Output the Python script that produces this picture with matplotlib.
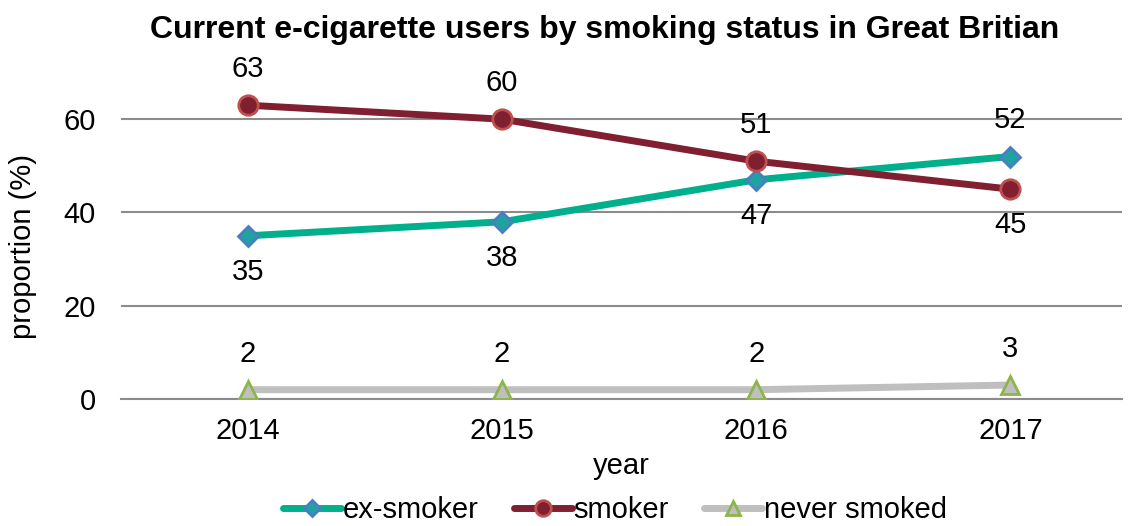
import numpy as np
import matplotlib
matplotlib.use('Agg')
import matplotlib.pyplot as plt

years = ['2014', '2015', '2016', '2017']
ex_smoker = [35, 38, 47, 52]
smoker = [63, 60, 51, 45]
never_smoked = [2, 2, 2, 3]

# label placement: +1 above, -1 below
ex_pos = [-1, -1, -1, 1]
sm_pos = [1, 1, 1, -1]
nv_pos = [1, 1, 1, 1]

plt.rcParams['font.family'] = ['Liberation Sans', 'DejaVu Sans']
fs = 21

fig = plt.figure(figsize=(11.28, 5.26), dpi=100)
ax = fig.add_axes([0.107, 0.2414, 0.888, 0.665])

x = np.arange(len(years))

l1, = ax.plot(x, ex_smoker, color='#00B08C', lw=5, marker='D', ms=10,
              mfc='#1FA3A0', mec='#4A7EC2', mew=2, zorder=3, solid_capstyle='round')
l2, = ax.plot(x, smoker, color='#7F1F2F', lw=5, marker='o', ms=14,
              mfc='#7F1F2F', mec='#C0504D', mew=2, zorder=3, solid_capstyle='round')
l3, = ax.plot(x, never_smoked, color='#BFBFBF', lw=5, marker='^', ms=13,
              mfc='#BFBFBF', mec='#8DB54A', mew=2, zorder=3, solid_capstyle='round')

for series, pos in [(ex_smoker, ex_pos), (smoker, sm_pos), (never_smoked, nv_pos)]:
    for xi, v, p in zip(x, series, pos):
        ax.annotate(str(v), (xi, v), xytext=(0, 26 * p), textcoords='offset points',
                    ha='center', va='center', fontsize=fs, clip_on=False)

ax.set_xlim(-0.5, 3.44)
ax.set_ylim(0, 75)
ax.set_yticks([0, 20, 40, 60])
ax.set_xticks(x)
ax.set_xticklabels(years)
ax.tick_params(axis='both', length=0, labelsize=fs)
ax.tick_params(axis='x', pad=13)
ax.tick_params(axis='y', pad=18)
ax.grid(axis='y', color='#8C8C8C', lw=1.5)
ax.set_axisbelow(True)
for s in ['top', 'right', 'left']:
    ax.spines[s].set_visible(False)
ax.spines['bottom'].set_color('#8C8C8C')
ax.spines['bottom'].set_linewidth(1.5)

ax.set_xlabel('year', fontsize=fs, labelpad=5)
ax.set_ylabel('proportion (%)', fontsize=fs)
ax.yaxis.set_label_coords(-0.0836, 0.437)

fig.text(0.536, 0.943, 'Current e-cigarette users by smoking status in Great Britian',
         ha='center', va='center', fontsize=23, fontweight='bold')

fig.legend([l1, l2, l3], ['ex-smoker', 'smoker', 'never smoked'], loc='center',
           bbox_to_anchor=(0.545, 0.03), ncol=3, frameon=False, fontsize=fs,
           handlelength=2.0, handletextpad=0.05, columnspacing=1.2, markerscale=0.8)

plt.savefig('out.png', dpi=100)
